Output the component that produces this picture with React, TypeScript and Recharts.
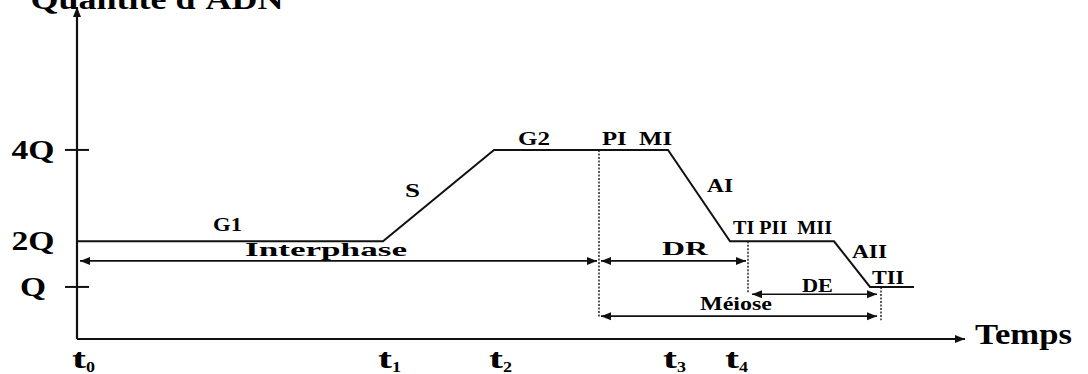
import { ComposedChart, Line, XAxis, YAxis, ReferenceLine, ReferenceDot } from "recharts";

// time in arbitrary units, DNA quantity in Q units
const times = [0, 30.6, 41.7, 59.1, 65.3, 75.7, 79.3, 83.7];
const dna = [2, 2, 4, 4, 2, 2, 1, 1];

const timeTicks = [0, 30.6, 41.7, 59.1, 65.3];
const timeTickSubs = ["0", "1", "2", "3", "4"];
const dnaTicks = [1, 2, 4];
const dnaTickLabels = ["Q", "2Q", "4Q"];
const dnaTickWidths = [26, 43, 43];

const phaseArrows = [
    { name: "Interphase", from: 0.3, to: 52.0, y: 1.57 },
    { name: "DR", from: 52.4, to: 66.9, y: 1.57 },
    { name: "DE", from: 67.5, to: 80.0, y: 0.84 },
    { name: "Méiose", from: 52.4, to: 80.0, y: 0.36 },
];

const boundaries = [
    { x: 52.2, top: 4, bottom: 0.34 },
    { x: 67.1, top: 2, bottom: 0.87 },
    { x: 80.4, top: 1, bottom: 0.27 },
];

const stageLabels = [
    { text: "Quantité d'ADN", x: 8.0, y: 7.09, size: 29, width: 253 },
    { text: "Temps", x: 94.65, y: -0.25, size: 29, width: 97 },
    { text: "G1", x: 15.05, y: 2.22, size: 18, width: 29 },
    { text: "Interphase", x: 24.9, y: 1.68, size: 19, width: 162 },
    { text: "S", x: 33.55, y: 2.97, size: 18, width: 15 },
    { text: "G2", x: 45.7, y: 4.11, size: 18, width: 32 },
    { text: "PI  MI", x: 56.0, y: 4.11, size: 18, width: 70 },
    { text: "AI", x: 64.3, y: 3.08, size: 18, width: 26 },
    { text: "DR", x: 60.8, y: 1.7, size: 18, width: 46 },
    { text: "TI PII  MII", x: 70.55, y: 2.17, size: 18, width: 99 },
    { text: "AII", x: 79.25, y: 1.63, size: 18, width: 35 },
    { text: "TII", x: 81.1, y: 1.06, size: 18, width: 32 },
    { text: "DE", x: 74.05, y: 0.89, size: 18, width: 31 },
    { text: "Méiose", x: 65.9, y: 0.49, size: 18, width: 72 },
];

const X_MAX = 88.8;
const Y_MIN = -0.14;
const Y_MAX = 7.13;
const FONT = "Liberation Serif, Times New Roman, Times, serif";
const INK = "#111";

const data = times.map((t, i) => ({ t, q: dna[i] }));

const textStyle = { fontFamily: FONT, fontWeight: 700, whiteSpace: "pre" as const };

const head = (x: number, y: number, a: number, len = 10, w = 4) => {
    const bx = x - len * Math.cos(a);
    const by = y - len * Math.sin(a);
    const px = w * Math.sin(a);
    const py = -w * Math.cos(a);
    return `${x},${y} ${bx + px},${by + py} ${bx - px},${by - py}`;
};

const arrowShape = (start: boolean, end: boolean, width = 1.7) => (p: any) => {
    const { x1, y1, x2, y2 } = p;
    const a = Math.atan2(y2 - y1, x2 - x1);
    return (
        <g>
            <line x1={x1} y1={y1} x2={x2} y2={y2} stroke={INK} strokeWidth={width} />
            {start && <polygon points={head(x1, y1, a + Math.PI)} fill={INK} />}
            {end && <polygon points={head(x2, y2, a)} fill={INK} />}
        </g>
    );
};

const labelShape = (l: { text: string; size: number; width: number }) => (p: any) => (
    <text
        x={p.cx}
        y={p.cy}
        textAnchor="middle"
        style={textStyle}
        fontSize={l.size}
        fill="#000"
        textLength={l.width}
        lengthAdjust="spacingAndGlyphs"
    >
        {l.text}
    </text>
);

const DnaTick = (p: any) => {
    const i = dnaTicks.indexOf(p.payload.value);
    return (
        <g>
            {p.payload.value !== 2 && (
                <line x1={p.x - 12} x2={p.x + 12} y1={p.y} y2={p.y} stroke={INK} strokeWidth={2} />
            )}
            <text
                x={p.x - 44}
                y={p.y + 9}
                textAnchor="middle"
                style={textStyle}
                fontSize={27}
                fill="#000"
                textLength={dnaTickWidths[i]}
                lengthAdjust="spacingAndGlyphs"
            >
                {dnaTickLabels[i]}
            </text>
        </g>
    );
};

const TimeTick = (p: any) => {
    const i = timeTicks.indexOf(p.payload.value);
    return (
        <g style={textStyle} fill="#000">
            <text x={p.x - 5} y={p.y + 29} fontSize={27} textLength={14} lengthAdjust="spacingAndGlyphs">t</text>
            <text x={p.x + 9} y={p.y + 33} fontSize={14} textLength={9} lengthAdjust="spacingAndGlyphs">
                {timeTickSubs[i]}
            </text>
        </g>
    );
};

export default function App() {
    return (
        <div style={{ position: "absolute", left: 0, top: 0, background: "#fff" }}>
            <ComposedChart width={1088} height={374} data={data} margin={{ top: 7, right: 123, left: 0, bottom: 0 }}>
                <XAxis
                    dataKey="t"
                    type="number"
                    domain={[0, X_MAX]}
                    allowDataOverflow
                    ticks={timeTicks}
                    tick={<TimeTick />}
                    tickLine={false}
                    axisLine={false}
                    tickSize={0}
                    tickMargin={0}
                    height={35}
                    interval={0}
                />
                <YAxis
                    type="number"
                    domain={[Y_MIN, Y_MAX]}
                    allowDataOverflow
                    ticks={dnaTicks}
                    tick={<DnaTick />}
                    tickLine={false}
                    axisLine={false}
                    tickSize={0}
                    tickMargin={0}
                    width={77}
                    interval={0}
                />
                {/* axes with arrowheads */}
                <ReferenceLine
                    segment={[{ x: 0, y: Y_MIN }, { x: 0, y: Y_MAX }]}
                    ifOverflow="visible"
                    shape={arrowShape(false, true, 2.2)}
                />
                <ReferenceLine
                    segment={[{ x: 0, y: Y_MIN }, { x: X_MAX, y: Y_MIN }]}
                    ifOverflow="visible"
                    shape={arrowShape(false, true, 2.2)}
                />
                {boundaries.map((b, i) => (
                    <ReferenceLine
                        key={"b" + i}
                        segment={[{ x: b.x, y: b.top }, { x: b.x, y: b.bottom }]}
                        ifOverflow="visible"
                        stroke="#333"
                        strokeWidth={1.6}
                        strokeDasharray="2 1.5"
                    />
                ))}
                {phaseArrows.map((a) => (
                    <ReferenceLine
                        key={a.name}
                        segment={[{ x: a.from, y: a.y }, { x: a.to, y: a.y }]}
                        ifOverflow="visible"
                        shape={arrowShape(true, true)}
                    />
                ))}
                <Line
                    dataKey="q"
                    type="linear"
                    stroke={INK}
                    strokeWidth={2}
                    dot={false}
                    activeDot={false}
                    isAnimationActive={false}
                />
                {stageLabels.map((l) => (
                    <ReferenceDot
                        key={l.text}
                        x={l.x}
                        y={l.y}
                        r={0}
                        ifOverflow="visible"
                        shape={labelShape(l)}
                    />
                ))}
            </ComposedChart>
        </div>
    );
}
